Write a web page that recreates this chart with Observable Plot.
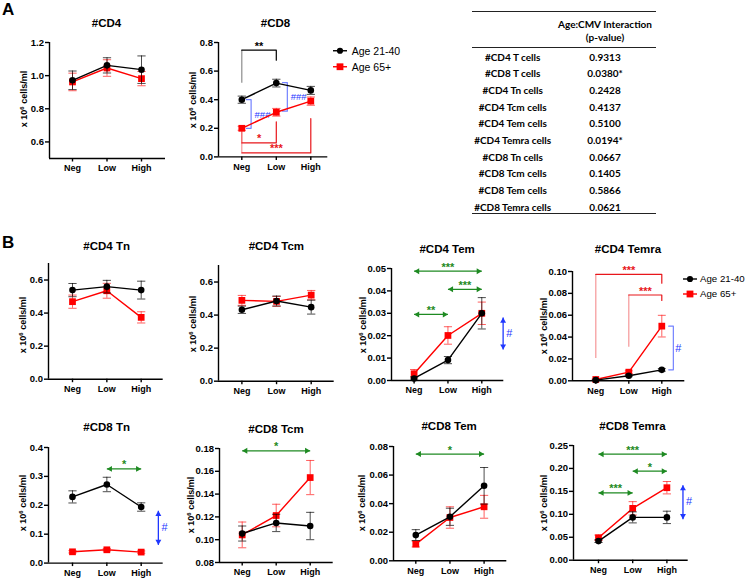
<!DOCTYPE html>
<html><head><meta charset="utf-8">
<script src="https://cdn.jsdelivr.net/npm/d3@7"></script>
<script src="https://cdn.jsdelivr.net/npm/@observablehq/plot@0.6"></script>
<style>
html,body{margin:0;padding:0;background:#fff;}
#fig{position:relative;width:746px;height:579px;overflow:hidden;font-family:"Liberation Sans",Arial,sans-serif;color:#000;}
.abs{position:absolute;white-space:nowrap;line-height:1;}
.title{font-weight:bold;font-size:11.5px;transform:translate(-50%,-50%);}
.ylab{font-weight:bold;font-size:9px;transform:translate(-50%,-50%) rotate(-90deg);}
.ylab sup{font-size:6px;position:relative;top:-1px;vertical-align:top;}
.letter{font-weight:bold;font-size:17px;}
.leg{font-size:10.5px;display:flex;align-items:center;transform:translateY(-50%);}
.legB{font-size:9.7px;}
.tbl{font-family:Lato,"Open Sans",sans-serif;font-weight:bold;font-size:10px;transform:translate(-50%,-50%);}
.rule{position:absolute;height:0;border-top:1.4px solid #222;}
</style></head>
<body><div id="fig"></div>
<script>
// ---------------- data ----------------
const categories = ["Neg", "Low", "High"];
const groupNames = ["Age 21-40", "Age 65+"];

const cd4_young = [0.972, 1.062, 1.036], cd4_youngSem = [0.056, 0.046, 0.083];
const cd4_old = [0.962, 1.046, 0.982],   cd4_oldSem = [0.053, 0.050, 0.043];
const cd8_young = [0.400, 0.516, 0.465], cd8_youngSem = [0.025, 0.027, 0.028];
const cd8_old = [0.200, 0.312, 0.390],   cd8_oldSem = [0.014, 0.027, 0.029];

const cd4tn_young = [0.539, 0.560, 0.539], cd4tn_youngSem = [0.040, 0.038, 0.054];
const cd4tn_old = [0.469, 0.535, 0.374],   cd4tn_oldSem = [0.040, 0.045, 0.034];
const cd4tcm_young = [0.432, 0.485, 0.448], cd4tcm_youngSem = [0.022, 0.030, 0.042];
const cd4tcm_old = [0.489, 0.483, 0.521],   cd4tcm_oldSem = [0.030, 0.030, 0.028];
const cd4tem_young = [0.0009, 0.0091, 0.0300], cd4tem_youngSem = [0.0007, 0.0016, 0.0070];
const cd4tem_old = [0.0030, 0.0201, 0.0300],   cd4tem_oldSem = [0.0019, 0.0039, 0.0050];
const cd4temra_young = [0.0006, 0.0046, 0.0100], cd4temra_youngSem = [0.0004, 0.0008, 0.0012];
const cd4temra_old = [0.0012, 0.0079, 0.0500],   cd4temra_oldSem = [0.0005, 0.0012, 0.0099];

const cd8tn_young = [0.229, 0.272, 0.194], cd8tn_youngSem = [0.021, 0.025, 0.0145];
const cd8tn_old = [0.039, 0.046, 0.038],   cd8tn_oldSem = [0.004, 0.004, 0.004];
const cd8tcm_young = [0.1054, 0.1147, 0.1120], cd8tcm_youngSem = [0.0066, 0.0076, 0.0120];
const cd8tcm_old = [0.1042, 0.1212, 0.1545],   cd8tcm_oldSem = [0.0113, 0.0099, 0.0150];
const cd8tem_young = [0.0180, 0.0308, 0.0525], cd8tem_youngSem = [0.0038, 0.0060, 0.0128];
const cd8tem_old = [0.0117, 0.0303, 0.0378],   cd8tem_oldSem = [0.0020, 0.0075, 0.0080];
const cd8temra_young = [0.0416, 0.0933, 0.0933], cd8temra_youngSem = [0.0030, 0.0120, 0.0135];
const cd8temra_old = [0.0488, 0.1130, 0.1580],   cd8temra_oldSem = [0.0060, 0.0146, 0.0135];

// y tick labels
const ticks_cd4 = [0.6, 0.8, 1.0, 1.2];
const ticks_cd8 = [0, 0.2, 0.4, 0.6, 0.8];
const ticks_tn4 = [0, 0.2, 0.4, 0.6];
const ticks_tem4 = [0, 0.01, 0.02, 0.03, 0.04, 0.05];
const ticks_temra4 = [0, 0.02, 0.04, 0.06, 0.08, 0.10];
const ticks_tn8 = [0, 0.1, 0.2, 0.3, 0.4];
const ticks_tcm8 = [0.08, 0.10, 0.12, 0.14, 0.16, 0.18];
const ticks_tem8 = [0, 0.02, 0.04, 0.06, 0.08];
const ticks_temra8 = [0, 0.05, 0.10, 0.15, 0.20, 0.25];

// significance annotations
const cd8_brackets = [
  {from: "Neg", to: "Low", yBar: 0.746, yFrom: 0.515, yTo: 0.676, label: "**", color: "#000000"},
  {from: "Neg", to: "Low", yBar: 0.098, yFrom: 0.175, yTo: 0.245, label: "*", color: "#e8161b"},
  {from: "Neg", to: "High", yBar: 0.028, yFrom: 0.175, yTo: 0.268, label: "***", color: "#e8161b"}
];
const cd8_ageBrackets = [
  {at: "Neg", dx: 0.27, y1: 0.40, y2: 0.20, label: "###", labelDx: 0.60, labelY: 0.29},
  {at: "Low", dx: 0.32, y1: 0.52, y2: 0.32, label: "###", labelDx: 0.65, labelY: 0.42}
];
const cd4temra_brackets = [
  {from: "Neg", to: "High", yBar: 0.0973, yFrom: 0.0204, yTo: 0.0893, label: "***", color: "#e8161b"},
  {from: "Low", to: "High", yBar: 0.0785, yFrom: 0.0307, yTo: 0.0735, label: "***", color: "#e8161b"}
];
const cd4temra_ageBrackets = [{at: "High", dx: 0.35, y1: 0.05, y2: 0.01, label: "#", labelDx: 0.50, labelY: 0.030}];
const cd4tem_arrows = [
  {from: "Neg", to: "High", y: 0.0488, label: "***"},
  {from: "Low", to: "High", y: 0.0407, label: "***"},
  {from: "Neg", to: "Low", y: 0.0295, label: "**"}
];
const cd4tem_ageArrows = [{at: "High", dx: 0.63, y1: 0.0281, y2: 0.0138, label: "#", labelDx: 0.81, labelY: 0.021}];
const cd8tn_arrows = [{from: "Low", to: "High", y: 0.326, label: "*"}];
const cd8tn_ageArrows = [{at: "High", dx: 0.50, y1: 0.181, y2: 0.063, label: "#", labelDx: 0.68, labelY: 0.123}];
const cd8tcm_arrows = [{from: "Neg", to: "High", y: 0.178, label: "*"}];
const cd8tem_arrows = [{from: "Neg", to: "High", y: 0.0747, label: "*"}];
const cd8temra_arrows = [
  {from: "Neg", to: "High", y: 0.231, label: "***"},
  {from: "Low", to: "High", y: 0.194, label: "*"},
  {from: "Neg", to: "Low", y: 0.1467, label: "***"}
];
const cd8temra_ageArrows = [{at: "High", dx: 0.47, y1: 0.1635, y2: 0.0894, label: "#", labelDx: 0.65, labelY: 0.127}];

// interaction table
const tableHeader = ["Age:CMV Interaction", "(p-value)"];
const tableRows = ["#CD4 T cells", "#CD8 T cells", "#CD4 Tn cells", "#CD4 Tcm cells", "#CD4 Tem cells",
  "#CD4 Temra cells", "#CD8 Tn cells", "#CD8 Tcm cells", "#CD8 Tem cells", "#CD8 Temra cells"];
const tablePValues = ["0.9313", "0.0380*", "0.2428", "0.4137", "0.5100", "0.0194*", "0.0667", "0.1405", "0.5866", "0.0621"];

// ---------------- drawing ----------------
const fig = document.getElementById("fig");
const RED = "#ff0000", GREEN = "#1e8a22", BLUE = "#1f37ff", LBLUE = "#7382ff";
const ci = c => categories.indexOf(c);

function addDiv(cls, x, y, html) {
  const d = document.createElement("div");
  d.className = "abs " + cls;
  d.style.left = x + "px"; d.style.top = y + "px";
  d.innerHTML = html;
  fig.appendChild(d);
  return d;
}

function drawPanel(p) {
  const g = p.geom, step = (g.high - g.neg) / 2;
  const xd = [-(g.neg - g.left) / step, 2 + (g.right - g.high) / step];
  const mL = 46, mR = 58, mT = 36, mB = 24;
  const W = g.right - g.left + mL + mR, H = g.bottom - g.top + mT + mB;
  const marks = [];
  const head = (data, x, y, rot, dx, dy, color) =>
    Plot.dot(data, {x, y, symbol: "triangle", r: 2.2, fill: color, stroke: "none", rotate: rot, dx, dy});

  for (const b of (p.brackets || [])) {
    marks.push(Plot.ruleX([b], {x: d => ci(d.from), y1: "yFrom", y2: "yBar", stroke: b.color, strokeOpacity: 0.45, strokeWidth: 1.2}));
    marks.push(Plot.line([{x: ci(b.from), y: b.yBar}, {x: ci(b.to), y: b.yBar}, {x: ci(b.to), y: b.yTo}],
      {x: "x", y: "y", stroke: b.color, strokeWidth: 1.2}));
    marks.push(Plot.text([b], {x: d => (ci(d.from) + ci(d.to)) / 2, y: "yBar", text: "label", dy: -4,
      fill: b.color, fontSize: 11, fontWeight: "bold"}));
  }
  for (const a of (p.ageBrackets || [])) {
    const xv = ci(a.at) + a.dx;
    marks.push(Plot.line([{x: xv - 0.14, y: a.y1}, {x: xv, y: a.y1}, {x: xv, y: a.y2}, {x: xv - 0.14, y: a.y2}],
      {x: "x", y: "y", stroke: LBLUE, strokeWidth: 1.2}));
    marks.push(Plot.text([a], {x: d => ci(d.at) + d.labelDx, y: "labelY", text: "label", fill: BLUE,
      fontSize: a.label.length > 1 ? 9.5 : 11, fontWeight: "normal"}));
  }
  if (p.arrows) {
    const A = p.arrows;
    marks.push(Plot.link(A, {x1: d => ci(d.from), x2: d => ci(d.to), y1: "y", y2: "y", stroke: GREEN, strokeWidth: 1.3}));
    marks.push(head(A, d => ci(d.from), "y", -90, 3.4, 0, GREEN));
    marks.push(head(A, d => ci(d.to), "y", 90, -3.4, 0, GREEN));
    marks.push(Plot.text(A, {x: d => (ci(d.from) + ci(d.to)) / 2, y: "y", text: "label", dy: -4,
      fill: GREEN, fontSize: 11, fontWeight: "bold"}));
  }
  if (p.ageArrows) {
    const A = p.ageArrows;
    const ax = d => ci(d.at) + d.dx;
    marks.push(Plot.link(A, {x1: ax, x2: ax, y1: "y1", y2: "y2", stroke: BLUE, strokeWidth: 1.3}));
    marks.push(head(A, ax, "y1", 0, 0, 3.4, BLUE));
    marks.push(head(A, ax, "y2", 180, 0, -3.4, BLUE));
    marks.push(Plot.text(A, {x: d => ci(d.at) + d.labelDx, y: "labelY", text: "label", fill: BLUE, fontSize: 11, fontWeight: "normal"}));
  }

  const series = [
    {vals: p.old, errs: p.oldSem, color: RED, err: "rgba(255,40,40,0.75)", symbol: "square", r: 3.8},
    {vals: p.young, errs: p.youngSem, color: "#000", err: "rgba(0,0,0,0.7)", symbol: "circle", r: 3.3}
  ];
  for (const s of series) {
    const rows = categories.map((c, i) => ({cat: c, i, v: s.vals[i], lo: s.vals[i] - s.errs[i], hi: s.vals[i] + s.errs[i]}));
    marks.push(Plot.ruleX(rows, {x: "i", y1: "lo", y2: "hi", stroke: s.err, strokeWidth: 1}));
    marks.push(Plot.link(rows.flatMap(d => [{i: d.i, y: d.lo}, {i: d.i, y: d.hi}]),
      {x1: d => d.i - 0.12, x2: d => d.i + 0.12, y1: "y", y2: "y", stroke: s.err, strokeWidth: 1}));
    marks.push(Plot.line(rows, {x: "i", y: "v", stroke: s.color, strokeWidth: 1.4}));
    marks.push(Plot.dot(rows, {x: "i", y: "v", symbol: s.symbol, r: s.r, fill: s.color, stroke: "none"}));
  }

  marks.push(Plot.ruleX([xd[0]], {stroke: "#000", strokeWidth: 1.4}));
  marks.push(Plot.ruleY([p.yDomain[0]], {stroke: "#000", strokeWidth: 1.4}));
  marks.push(Plot.axisY({ticks: p.yTicks, tickFormat: d => d.toFixed(p.dec), tickSize: 4, tickPadding: 1.5,
    strokeWidth: 1.4, fontSize: 9.5, fontWeight: "bold", label: null}));
  marks.push(Plot.axisX({ticks: [0, 1, 2], tickFormat: i => categories[i], tickSize: 3.5, tickPadding: 3,
    strokeWidth: 1.4, fontSize: 9, fontWeight: "bold", label: null}));

  const svg = Plot.plot({
    width: W, height: H, marginLeft: mL, marginRight: mR, marginTop: mT, marginBottom: mB,
    x: {domain: xd, axis: null}, y: {domain: p.yDomain, axis: null},
    style: {background: "transparent", overflow: "visible", fontFamily: "Liberation Sans, Arial, sans-serif", color: "#000"},
    marks
  });
  svg.style.position = "absolute";
  svg.style.left = (g.left - mL) + "px";
  svg.style.top = (g.top - mT) + "px";
  svg.style.maxWidth = "none";
  fig.appendChild(svg);

  const lowPx = (g.neg + g.high) / 2;
  addDiv("title", lowPx, p.titleY, p.title);
  addDiv("ylab", p.ylab[0], p.ylab[1], "x 10<sup>6</sup> cells/ml");
}

const panels = [
  {title: "#CD4", young: cd4_young, youngSem: cd4_youngSem, old: cd4_old, oldSem: cd4_oldSem,
   yDomain: [0.5, 1.2], yTicks: ticks_cd4, dec: 1, titleY: 24, ylab: [23.5, 99],
   geom: {left: 49, right: 165, neg: 72, high: 141, top: 42, bottom: 158}},
  {title: "#CD8", young: cd8_young, youngSem: cd8_youngSem, old: cd8_old, oldSem: cd8_oldSem,
   yDomain: [0, 0.8], yTicks: ticks_cd8, dec: 1, titleY: 24, ylab: [193.3, 100],
   brackets: cd8_brackets, ageBrackets: cd8_ageBrackets,
   geom: {left: 217.7, right: 327, neg: 241, high: 310, top: 42.3, bottom: 156.7}},
  {title: "#CD4 Tn", young: cd4tn_young, youngSem: cd4tn_youngSem, old: cd4tn_old, oldSem: cd4tn_oldSem,
   yDomain: [0, 0.7], yTicks: ticks_tn4, dec: 1, titleY: 247, ylab: [23.3, 325],
   geom: {left: 48.3, right: 163, neg: 72.3, high: 141, top: 263.3, bottom: 379}},
  {title: "#CD4 Tcm", young: cd4tcm_young, youngSem: cd4tcm_youngSem, old: cd4tcm_old, oldSem: cd4tcm_oldSem,
   yDomain: [0, 0.7], yTicks: ticks_tn4, dec: 1, titleY: 247, ylab: [193.3, 324],
   geom: {left: 218.3, right: 334, neg: 241.7, high: 311, top: 265, bottom: 380.7}},
  {title: "#CD4 Tem", young: cd4tem_young, youngSem: cd4tem_youngSem, old: cd4tem_old, oldSem: cd4tem_oldSem,
   yDomain: [0, 0.05], yTicks: ticks_tem4, dec: 2, titleY: 249.5, ylab: [363, 325],
   arrows: cd4tem_arrows, ageArrows: cd4tem_ageArrows,
   geom: {left: 390.7, right: 503, neg: 413.3, high: 481, top: 268.3, bottom: 380.3}},
  {title: "#CD4 Temra", young: cd4temra_young, youngSem: cd4temra_youngSem, old: cd4temra_old, oldSem: cd4temra_oldSem,
   yDomain: [0, 0.1], yTicks: ticks_temra4, dec: 2, titleY: 249.5, ylab: [543.5, 326],
   brackets: cd4temra_brackets, ageBrackets: cd4temra_ageBrackets,
   geom: {left: 571.7, right: 684, neg: 595, high: 661, top: 271, bottom: 380.3}},
  {title: "#CD8 Tn", young: cd8tn_young, youngSem: cd8tn_youngSem, old: cd8tn_old, oldSem: cd8tn_oldSem,
   yDomain: [0, 0.4], yTicks: ticks_tn8, dec: 1, titleY: 428.3, ylab: [23.3, 503],
   arrows: cd8tn_arrows, ageArrows: cd8tn_ageArrows,
   geom: {left: 48.3, right: 163, neg: 72.3, high: 141, top: 446.7, bottom: 562.3}},
  {title: "#CD8 Tcm", young: cd8tcm_young, youngSem: cd8tcm_youngSem, old: cd8tcm_old, oldSem: cd8tcm_oldSem,
   yDomain: [0.08, 0.18], yTicks: ticks_tcm8, dec: 2, titleY: 430, ylab: [191, 505],
   arrows: cd8tcm_arrows,
   geom: {left: 219.3, right: 333, neg: 242, high: 310, top: 448.3, bottom: 562.3}},
  {title: "#CD8 Tem", young: cd8tem_young, youngSem: cd8tem_youngSem, old: cd8tem_old, oldSem: cd8tem_oldSem,
   yDomain: [0, 0.08], yTicks: ticks_tem8, dec: 2, titleY: 427.3, ylab: [362, 503],
   arrows: cd8tem_arrows,
   geom: {left: 392.7, right: 506, neg: 415, high: 483.3, top: 445.7, bottom: 560}},
  {title: "#CD8 Temra", young: cd8temra_young, youngSem: cd8temra_youngSem, old: cd8temra_old, oldSem: cd8temra_oldSem,
   yDomain: [0, 0.25], yTicks: ticks_temra8, dec: 2, titleY: 427.3, ylab: [543.5, 503],
   arrows: cd8temra_arrows, ageArrows: cd8temra_ageArrows,
   geom: {left: 573.3, right: 688, neg: 598.3, high: 666.7, top: 445.3, bottom: 560}}
];
panels.forEach(drawPanel);

// panel letters
addDiv("letter", 2, 1, "A");
addDiv("letter", 2, 234, "B");

// legends
function legend(x, y, gap, extra, textGap) {
  groupNames.forEach((name, k) => {
    const sym = k === 0
      ? '<circle cx="7" cy="5" r="3.1" fill="#000"/>'
      : '<rect x="3.6" y="1.6" width="6.8" height="6.8" fill="' + RED + '"/>';
    const col = k === 0 ? "#000" : RED;
    addDiv("leg " + extra, x, y + k * gap,
      '<svg width="14" height="10" style="margin-right:' + textGap + 'px;overflow:visible"><line x1="0" x2="14" y1="5" y2="5" stroke="' + col + '" stroke-width="1.4"/>' + sym + '</svg><span>' + name + '</span>');
  });
}
legend(332.7, 51, 15.7, "", 5);
legend(682.5, 279.3, 15, "legB", 3.5);

// table
const TL = 471.7, TR = 655.7;
function rule(y) { const r = document.createElement("div"); r.className = "rule"; r.style.left = TL + "px"; r.style.width = (TR - TL) + "px"; r.style.top = y + "px"; fig.appendChild(r); }
rule(11); rule(47); rule(212.6);
addDiv("tbl", 605, 24, tableHeader[0]);
addDiv("tbl", 605, 37.3, tableHeader[1]);
tableRows.forEach((r, k) => {
  const y = 56.7 + k * 16.67;
  addDiv("tbl", 512.7, y, r);
  addDiv("tbl", 605, y, tablePValues[k]);
});
</script>
</body></html>
